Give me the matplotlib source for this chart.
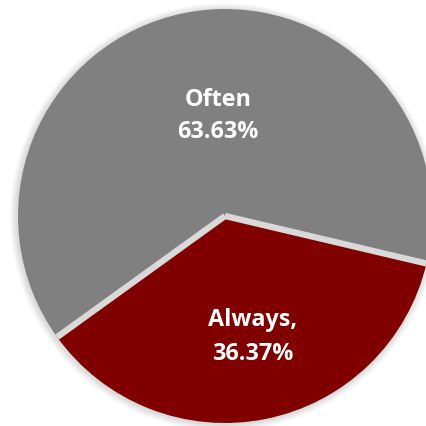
import matplotlib
matplotlib.use("Agg")
import matplotlib.pyplot as plt
from matplotlib.patches import Circle
import numpy as np

categories = ["Always", "Often"]
values = [36.37, 63.63]
colors = ["#800000", "#808080"]
label_lines = [("Always,", "36.37%"), ("Often", "63.63%")]

W = 427
fig = plt.figure(figsize=(4.27, 4.27), dpi=100)
ax = fig.add_axes([0, 0, 1, 1])

cx, cy, r = 225, W - 217, 207

# soft shadow
for k in range(1, 8):
    ax.add_patch(Circle((cx - 1, cy - 1), r + k, facecolor="black", edgecolor="none",
                        alpha=0.02, zorder=0))

wedges, _ = ax.pie(values, colors=colors, startangle=-144.2, counterclock=True,
                   center=(cx, cy), radius=r,
                   wedgeprops=dict(edgecolor="none", linewidth=0))
for w in wedges:
    w.set_zorder(2)

# separator lines between slices
clip = Circle((cx, cy), r, transform=ax.transData)
for w in wedges:
    ang = np.deg2rad(w.theta1)
    ln, = ax.plot([cx, cx + (r + 5) * np.cos(ang)], [cy, cy + (r + 5) * np.sin(ang)],
                  color="#d9d9d9", linewidth=4.5, solid_capstyle="butt",
                  solid_joinstyle="miter", zorder=3)
    ln.set_clip_path(clip)

font = "Open Sans"
fs = 16.8
label_pos = [((253, 320), (253, 354)), ((218, 100), (218, 132))]
for (l1, l2), ((x1, y1), (x2, y2)) in zip(label_lines, label_pos):
    ax.text(x1, W - y1, l1, color="white", fontsize=fs, fontweight="bold",
            family=font, ha="center", va="center", zorder=5)
    ax.text(x2, W - y2, l2, color="white", fontsize=fs, fontweight="bold",
            family=font, ha="center", va="center", zorder=5)

ax.set_xlim(0, W)
ax.set_ylim(0, W)
ax.set_aspect("equal")
ax.axis("off")
fig.savefig("out.png", dpi=100)
